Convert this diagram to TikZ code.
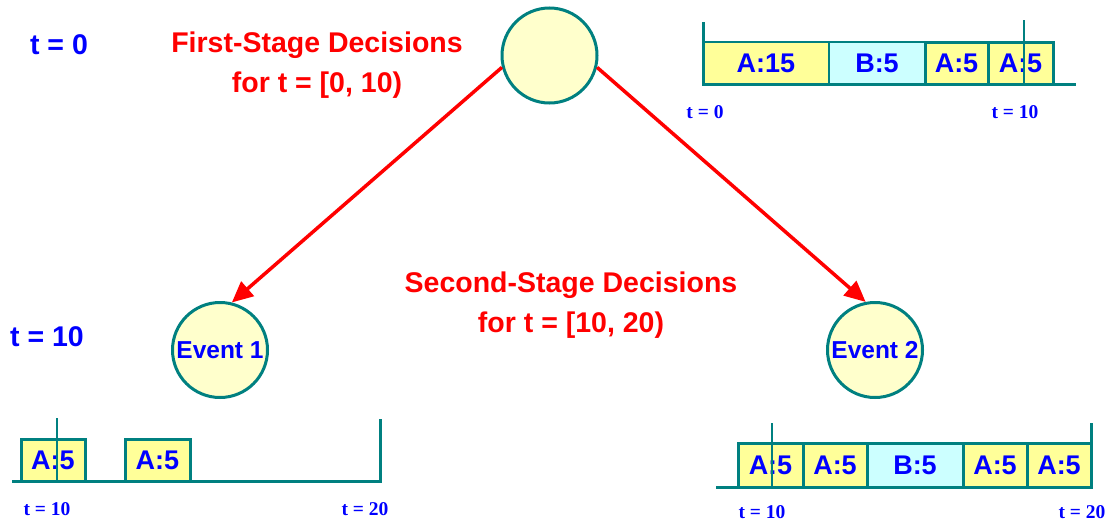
\documentclass[tikz,border=0pt]{standalone}
\usepackage{fontspec}
\setmainfont{Liberation Sans}
\newfontfamily\serifbold{Liberation Serif}
\usetikzlibrary{arrows.meta, positioning}
\definecolor{tealline}{RGB}{0,128,128}
\definecolor{cream}{RGB}{255,255,204}
\definecolor{slotA}{RGB}{255,255,153}
\definecolor{slotB}{RGB}{204,255,255}
\definecolor{textblue}{RGB}{0,0,255}
\definecolor{textred}{RGB}{255,0,0}

\begin{document}
\begin{tikzpicture}[x=1pt, y=-1pt,
    evento/.style={draw=tealline, circle, fill=cream, line width=3pt,
                   minimum size=95pt, inner sep=0pt, text=textblue,
                   font=\fontsize{24.5}{28}\selectfont\bfseries},
    slot/.style={draw=tealline, line width=3pt, inner sep=0pt,
                 text=textblue, font=\fontsize{27}{30}\selectfont\bfseries},
    etapa/.style={text=textred, align=center,
                  font=\fontsize{28.5}{40}\selectfont\bfseries},
    tiempo/.style={text=textblue, font=\fontsize{28.5}{30}\selectfont\bfseries},
    marca/.style={text=textblue, inner sep=1pt,
                  font=\fontsize{19.5}{22}\selectfont\serifbold\bfseries},
    eje/.style={draw=tealline, line width=3pt},
    rama/.style={-{Triangle[length=21pt, width=19pt]}, draw=textred, line width=3.5pt},
]
\useasboundingbox (0,0) rectangle (1111,522);

%% Arbol de escenarios
\node[evento] at (549.5, 55.5) (raiz) {};
\node[evento] at (220, 350)    (ev1)  {Event 1};
\node[evento] at (875, 350)    (ev2)  {Event 2};

\draw[rama] (raiz.194) -- (ev1.76);
\draw[rama] (raiz.346) -- (ev2.101);

%% Textos
\node[tiempo] at (59, 45)   (t0)  {t = 0};
\node[tiempo] at (47, 337)  (t10) {t = 10};
\node[etapa]  at (317, 65)  (st1) {First-Stage Decisions\\for t = [0, 10)};
\node[etapa]  at (571, 305) (st2) {Second-Stage Decisions\\for t = [10, 20)};

%% Horizonte t = [0, 10)
\node[slot, fill=slotA, line width=2pt, minimum width=126pt, minimum height=42pt] at (766, 63)   (a15) {A:15};
\node[slot, fill=slotB, line width=2pt, minimum width=96pt,  minimum height=42pt] at (877, 63)   (b1)  {B:5};
\node[slot, fill=slotA, minimum width=63pt, minimum height=42pt] at (956.5, 63)  (a1) {A:5};
\node[slot, fill=slotA, minimum width=65pt, minimum height=42pt] at (1020.5, 63) (a2) {A:5};
\draw[eje] (703,22) -- (703,84) -- (1076,84);
\draw[eje, line width=2pt] (1024,20) -- (1024,84);
\node[marca] at (705, 112)  (m0)  {t = 0};
\node[marca] at (1015, 112) (m10) {t = 10};

%% Evento 1, t = [10, 20)
\node[slot, fill=slotA, minimum width=64pt, minimum height=42pt] at (53, 460)    (e1a) {A:5};
\node[slot, fill=slotA, minimum width=65pt, minimum height=42pt] at (157.5, 460) (e1b) {A:5};
\draw[eje] (12,481) -- (380,481) -- (380,419);
\draw[eje, line width=2pt] (57,418) -- (57,481);
\node[marca] at (47, 509)  (e1m10) {t = 10};
\node[marca] at (365, 509) (e1m20) {t = 20};

%% Evento 2, t = [10, 20)
\node[slot, fill=slotA, minimum width=65pt, minimum height=44pt] at (770.5, 465)  (e2a) {A:5};
\node[slot, fill=slotA, minimum width=64pt, minimum height=44pt] at (835, 465)    (e2b) {A:5};
\node[slot, fill=slotB, minimum width=96pt, minimum height=44pt] at (915, 465)    (e2c) {B:5};
\node[slot, fill=slotA, minimum width=64pt, minimum height=44pt] at (995, 465)    (e2d) {A:5};
\node[slot, fill=slotA, minimum width=64pt, minimum height=44pt] at (1059, 465)   (e2e) {A:5};
\draw[eje] (716,487) -- (1092,487);
\draw[eje, line width=2pt] (772,423) -- (772,487);
\draw[eje] (1091,423) -- (1091,487);
\node[marca] at (762, 512)  (e2m10) {t = 10};
\node[marca] at (1082, 512) (e2m20) {t = 20};
\end{tikzpicture}
\end{document}
